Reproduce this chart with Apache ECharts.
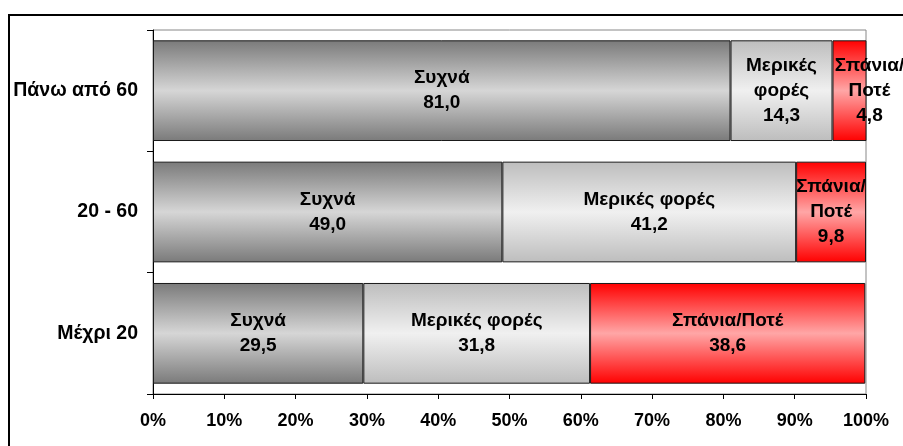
<!DOCTYPE html>
<html>
<head>
<meta charset="utf-8">
<script src="https://cdn.jsdelivr.net/npm/echarts@6/dist/echarts.min.js"></script>
<style>
  html, body { margin: 0; padding: 0; background: #fff; }
  #chart { width: 903px; height: 446px; }
</style>
</head>
<body>
<div id="chart"></div>
<script>
// κατηγορίες ηλικίας (από κάτω προς τα πάνω)
const categories = ['Μέχρι 20', '20 - 60', 'Πάνω από 60'];
const seriesNames = ['Συχνά', 'Μερικές φορές', 'Σπάνια/Ποτέ'];
const often = [29.5, 49.0, 81.0];
const sometimes = [31.8, 41.2, 14.3];
const rarely = [38.6, 9.8, 4.8];
const xTicks = [0, 10, 20, 30, 40, 50, 60, 70, 80, 90, 100];

const chart = echarts.init(document.getElementById('chart'));

function grad(edge, mid) {
  return new echarts.graphic.LinearGradient(0, 0, 0, 1, [
    { offset: 0, color: edge },
    { offset: 0.5, color: mid },
    { offset: 1, color: edge }
  ]);
}

// στενά τμήματα: σπάσιμο του ονόματος σε γραμμές
function labelText(p) {
  let name = p.seriesName;
  if (p.value < 20) {
    name = name.replace('/', '/\n').replace(' ', '\n');
  }
  return name + '\n' + p.value.toFixed(1).replace('.', ',');
}

const labelStyle = {
  show: true,
  position: 'inside',
  color: '#000',
  fontWeight: 'bold',
  fontSize: 19,
  fontFamily: 'Arial, "Liberation Sans", sans-serif',
  lineHeight: 25,
  formatter: labelText
};

const fills = [
  grad('#7a7a7a', '#d6d6d6'),
  grad('#bdbdbd', '#f0f0f0'),
  grad('#ff0000', '#ffa6a6')
];
const values = [often, sometimes, rarely];

function seriesData(arr) {
  // πολύ στενό τμήμα: η ετικέτα μετατοπίζεται λίγο δεξιά
  return arr.map(v => v < 6 ? { value: v, label: { offset: [20, 0] } } : v);
}

chart.setOption({
  animation: false,
  textStyle: { fontFamily: 'Arial, "Liberation Sans", sans-serif' },
  graphic: [{
    type: 'rect',
    shape: { x: 9, y: 15, width: 910, height: 450 },
    style: { fill: 'none', stroke: '#000', lineWidth: 2 },
    z: -1
  }],
  grid: {
    left: 153,
    right: 37,
    top: 30,
    bottom: 52,
    show: true,
    borderColor: '#888',
    borderWidth: 1
  },
  xAxis: {
    type: 'value',
    min: xTicks[0],
    max: xTicks[xTicks.length - 1],
    interval: 10,
    splitLine: { show: false },
    axisLine: { show: true, lineStyle: { color: '#000', width: 1 } },
    axisTick: { show: true, length: 5, lineStyle: { color: '#000' } },
    axisLabel: {
      formatter: '{value}%',
      color: '#000',
      fontWeight: 'bold',
      fontSize: 18,
      margin: 18
    }
  },
  yAxis: {
    type: 'category',
    data: categories,
    axisLine: { show: true, lineStyle: { color: '#000', width: 1 } },
    axisTick: { show: true, length: 6, lineStyle: { color: '#000' } },
    axisLabel: {
      color: '#000',
      fontWeight: 'bold',
      fontSize: 19.5,
      margin: 15
    }
  },
  series: seriesNames.map((name, i) => ({
    name: name,
    type: 'bar',
    stack: 'total',
    barCategoryGap: '17%',
    data: seriesData(values[i]),
    itemStyle: { color: fills[i], borderColor: '#1a1a1a', borderWidth: 1 },
    label: labelStyle
  }))
});
</script>
</body>
</html>
